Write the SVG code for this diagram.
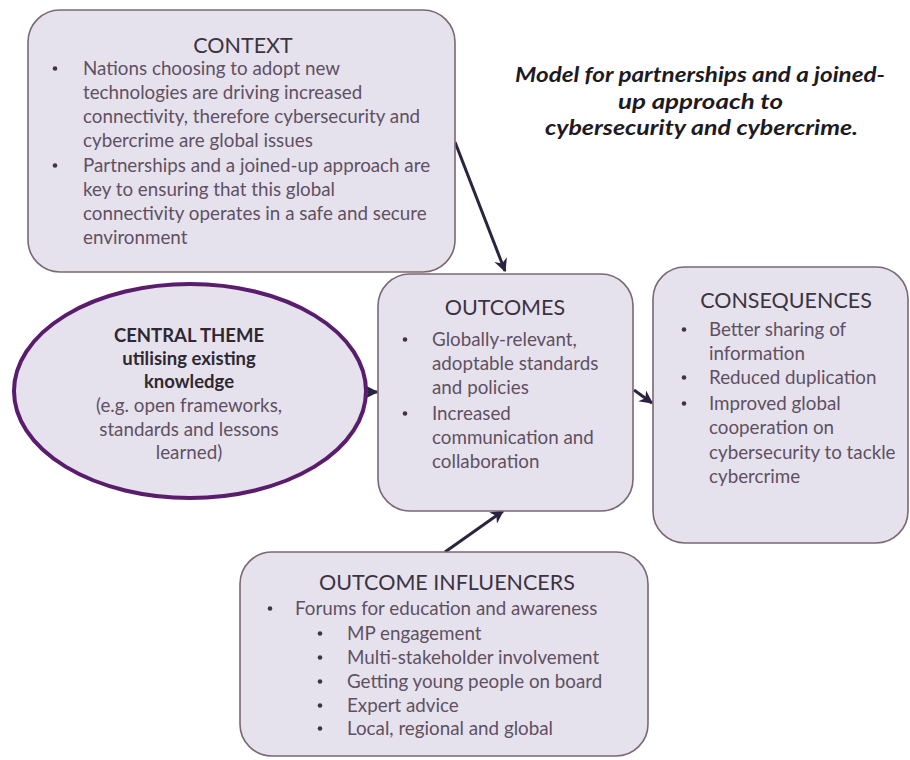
<svg xmlns="http://www.w3.org/2000/svg" width="910" height="760" viewBox="0 0 910 760">
  <style>
    .box { fill: #e6e2ed; stroke: #7a6872; stroke-width: 1.6; }
    .oval { fill: #e6e2ed; stroke: #5a1d6e; stroke-width: 4; }
    .head { font-family: Lato, "Open Sans", sans-serif; font-size: 21.5px; fill: #3c3340; }
    .body { font-family: Lato, "Open Sans", sans-serif; font-size: 18.8px; fill: #5f5062; }
    .bold { font-family: Lato, "Open Sans", sans-serif; font-size: 18.5px; font-weight: bold; fill: #2e2832; }
    .title { font-family: Lato, "Open Sans", sans-serif; font-size: 21.5px; font-weight: bold; font-style: italic; fill: #1e1a22; }
    .dot { fill: #3e3444; }
    .link { stroke: #2c2340; stroke-width: 3; fill: none; }
  </style>
  <defs>
    <marker id="arrow" viewBox="0 0 10 10" refX="9" refY="5" markerWidth="4.5" markerHeight="4.5" orient="auto" markerUnits="strokeWidth">
      <path d="M0,0 L10,5 L0,10 L3,5 z" fill="#2c2340"/>
    </marker>
  </defs>

  <rect width="910" height="760" fill="#ffffff"/>

  <!-- title -->
  <g id="title" text-anchor="middle">
    <text class="title" x="700" y="82" textLength="370" lengthAdjust="spacingAndGlyphs">Model for partnerships and a joined-</text>
    <text class="title" x="700.5" y="108.5" textLength="165" lengthAdjust="spacingAndGlyphs">up approach to</text>
    <text class="title" x="701.5" y="135" textLength="313" lengthAdjust="spacingAndGlyphs">cybersecurity and cybercrime.</text>
  </g>

  <!-- connectors -->
  <g id="connectors">
    <line class="link" x1="455" y1="142" x2="505" y2="271" marker-end="url(#arrow)"/>
    <line class="link" x1="366" y1="392" x2="377" y2="392" marker-end="url(#arrow)"/>
    <line class="link" x1="634" y1="390" x2="652" y2="403" marker-end="url(#arrow)"/>
    <line class="link" x1="445" y1="552" x2="503" y2="511" marker-end="url(#arrow)"/>
  </g>

  <!-- context box -->
  <g id="context">
    <rect class="box" x="28" y="10" width="427" height="262" rx="32"/>
    <text class="head" x="243" y="53" text-anchor="middle">CONTEXT</text>
    <circle class="dot" cx="55" cy="68.5" r="2.3"/>
    <circle class="dot" cx="55" cy="165.5" r="2.3"/>
    <g class="body">
      <text x="83" y="75">Nations choosing to adopt new</text>
      <text x="83" y="99">technologies are driving increased</text>
      <text x="83" y="123">connectivity, therefore cybersecurity and</text>
      <text x="83" y="147">cybercrime are global issues</text>
      <text x="83" y="172">Partnerships and a joined-up approach are</text>
      <text x="83" y="196">key to ensuring that this global</text>
      <text x="83" y="220">connectivity operates in a safe and secure</text>
      <text x="83" y="244">environment</text>
    </g>
  </g>

  <!-- central theme oval -->
  <g id="central-theme" text-anchor="middle">
    <ellipse class="oval" cx="190" cy="391" rx="176" ry="107"/>
    <text class="bold" x="189" y="342">CENTRAL THEME</text>
    <text class="bold" x="189" y="365">utilising existing</text>
    <text class="bold" x="189" y="388">knowledge</text>
    <text class="body" x="189" y="412">(e.g. open frameworks,</text>
    <text class="body" x="189" y="436">standards and lessons</text>
    <text class="body" x="189" y="459">learned)</text>
  </g>

  <!-- outcomes box -->
  <g id="outcomes">
    <rect class="box" x="378" y="274" width="255" height="237" rx="32"/>
    <text class="head" x="505" y="315" text-anchor="middle">OUTCOMES</text>
    <circle class="dot" cx="405" cy="339.5" r="2.3"/>
    <circle class="dot" cx="405" cy="413.5" r="2.3"/>
    <g class="body">
      <text x="432" y="346">Globally-relevant,</text>
      <text x="432" y="370">adoptable standards</text>
      <text x="432" y="394">and policies</text>
      <text x="432" y="420">Increased</text>
      <text x="432" y="444">communication and</text>
      <text x="432" y="468">collaboration</text>
    </g>
  </g>

  <!-- consequences box -->
  <g id="consequences">
    <rect class="box" x="653" y="267" width="255" height="276" rx="32"/>
    <text class="head" x="786" y="308" text-anchor="middle">CONSEQUENCES</text>
    <circle class="dot" cx="684" cy="329.5" r="2.3"/>
    <circle class="dot" cx="684" cy="377.5" r="2.3"/>
    <circle class="dot" cx="684" cy="403.5" r="2.3"/>
    <g class="body">
      <text x="709" y="336">Better sharing of</text>
      <text x="709" y="360">information</text>
      <text x="709" y="384">Reduced duplication</text>
      <text x="709" y="410">Improved global</text>
      <text x="709" y="434">cooperation on</text>
      <text x="709" y="459">cybersecurity to tackle</text>
      <text x="709" y="483">cybercrime</text>
    </g>
  </g>

  <!-- outcome influencers box -->
  <g id="outcome-influencers">
    <rect class="box" x="240" y="552" width="408" height="204" rx="32"/>
    <text class="head" x="447" y="590" text-anchor="middle">OUTCOME INFLUENCERS</text>
    <circle class="dot" cx="270" cy="608.5" r="2.3"/>
    <circle class="dot" cx="320" cy="633.5" r="2.3"/>
    <circle class="dot" cx="320" cy="657.5" r="2.3"/>
    <circle class="dot" cx="320" cy="681.5" r="2.3"/>
    <circle class="dot" cx="320" cy="705.5" r="2.3"/>
    <circle class="dot" cx="320" cy="728.5" r="2.3"/>
    <g class="body">
      <text x="295" y="615">Forums for education and awareness</text>
      <text x="347" y="640">MP engagement</text>
      <text x="347" y="664">Multi-stakeholder involvement</text>
      <text x="347" y="688">Getting young people on board</text>
      <text x="347" y="712">Expert advice</text>
      <text x="347" y="735">Local, regional and global</text>
    </g>
  </g>
</svg>
